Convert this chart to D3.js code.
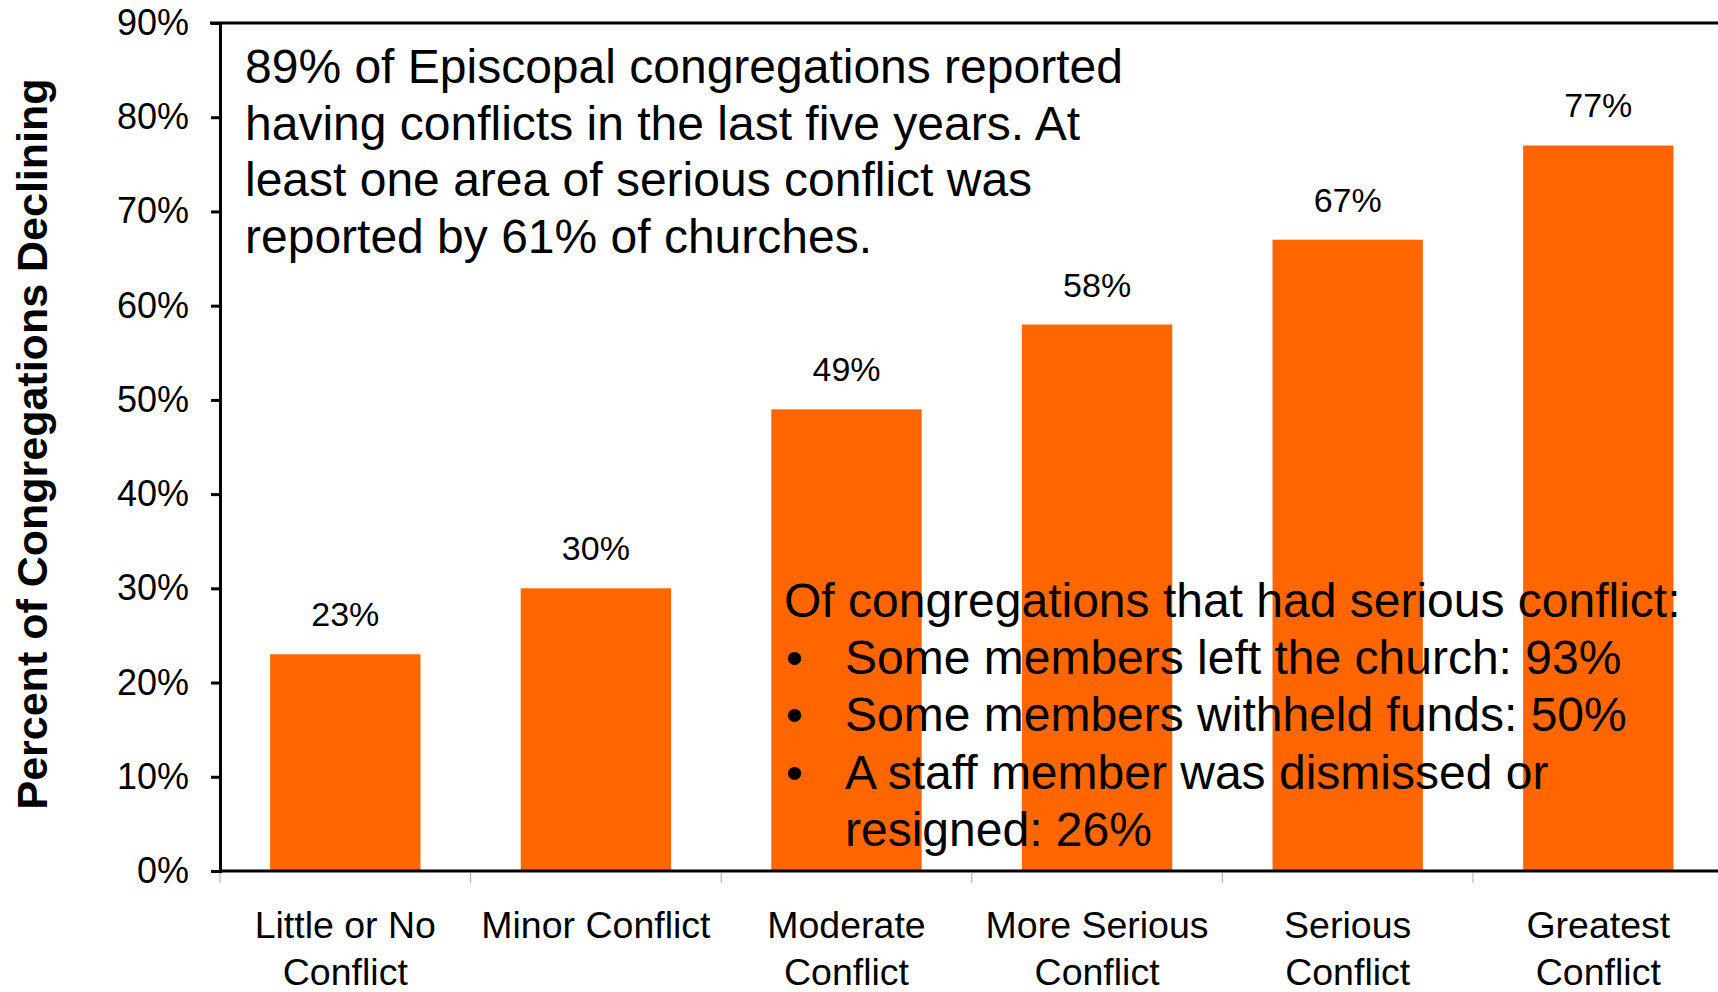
<!DOCTYPE html>
<html>
<head>
<meta charset="utf-8">
<script src="https://cdn.jsdelivr.net/npm/d3@7"></script>
<style>
  html, body { margin: 0; padding: 0; background: #fff; overflow: hidden; }
  svg { display: block; font-family: "Liberation Sans", Arial, sans-serif; }
</style>
</head>
<body>
<svg id="chart" width="1718" height="992"></svg>
<script>
const categories = ["Little or No Conflict", "Minor Conflict", "Moderate Conflict", "More Serious Conflict", "Serious Conflict", "Greatest Conflict"];
const categoryLines = [["Little or No", "Conflict"], ["Minor Conflict"], ["Moderate", "Conflict"], ["More Serious", "Conflict"], ["Serious", "Conflict"], ["Greatest", "Conflict"]];
const values = [0.23, 0.30, 0.49, 0.58, 0.67, 0.77];
const yTicks = [0, 0.1, 0.2, 0.3, 0.4, 0.5, 0.6, 0.7, 0.8, 0.9];
const yTitle = "Percent of Congregations Declining";
const note1 = ["89% of Episcopal congregations reported", "having conflicts in the last five years. At", "least one area of serious conflict was", "reported by 61% of churches."];
const note2Head = "Of congregations that had serious conflict:";
const note2Bullets = [["Some members left the church: 93%"], ["Some members withheld funds: 50%"], ["A staff member was dismissed or", "resigned: 26%"]];

(function () {
const W = 1718, H = 992;
const mLeft = 220, mTop = 23, mBottom = 871, mRight = 1723.6;
const svg = d3.select("#chart");

const x = d3.scaleBand().domain(categories).range([mLeft, mRight]).paddingInner(0.4).paddingOuter(0.2);
const y = d3.scaleLinear().domain([0, 0.9]).range([mBottom, mTop]);

// Bars
svg.append("g").selectAll("rect").data(values).join("rect")
  .attr("x", (d, i) => x(categories[i]))
  .attr("y", d => y(d))
  .attr("width", x.bandwidth())
  .attr("height", d => y(0) - y(d))
  .attr("fill", "#FF6600");

// Bar value labels
svg.append("g").selectAll("text").data(values).join("text")
  .attr("x", (d, i) => x(categories[i]) + x.bandwidth() / 2)
  .attr("y", d => y(d) - 28)
  .attr("text-anchor", "middle")
  .attr("font-size", 34)
  .attr("fill", "#000")
  .text(d => d3.format(".0%")(d));

// Y axis
const yAxis = d3.axisLeft(y).tickValues(yTicks).tickFormat(d3.format(".0%")).tickSize(9).tickPadding(22);
const gy = svg.append("g").attr("transform", `translate(${mLeft},0)`).call(yAxis);
gy.select(".domain").attr("stroke", "#000").attr("stroke-width", 3);
gy.selectAll(".tick line").attr("stroke", "#000").attr("stroke-width", 3);
gy.selectAll(".tick text").attr("font-size", 36).attr("fill", "#000")
  .attr("font-family", "Liberation Sans, Arial, sans-serif");

// Top border line
svg.append("line").attr("x1", mLeft - 10).attr("x2", W).attr("y1", y(0.9)).attr("y2", y(0.9))
  .attr("stroke", "#000").attr("stroke-width", 3);

// Bottom axis: gray ticks at band boundaries
const bounds = categories.map(c => x(c) - x.step() * x.paddingInner() / 2);
svg.append("g").selectAll("line").data(bounds).join("line")
  .attr("x1", d => d).attr("x2", d => d)
  .attr("y1", y(0) + 2).attr("y2", y(0) + 12)
  .attr("stroke", "#aaa").attr("stroke-width", 1);
svg.append("line").attr("x1", mLeft).attr("x2", W).attr("y1", y(0)).attr("y2", y(0))
  .attr("stroke", "#000").attr("stroke-width", 3);

// Category labels
const cat = svg.append("g").selectAll("text").data(categories).join("text")
  .attr("text-anchor", "middle")
  .attr("font-size", 37.5)
  .attr("fill", "#000");
cat.each(function(c, i) {
  const t = d3.select(this);
  categoryLines[i].forEach((ln, j) => {
    t.append("tspan").attr("x", x(c) + x.bandwidth() / 2).attr("y", 938 + j * 47).text(ln);
  });
});

// Y title
svg.append("text")
  .attr("transform", `translate(47,444) rotate(-90)`)
  .attr("text-anchor", "middle")
  .attr("font-size", 43)
  .attr("font-weight", "bold")
  .attr("fill", "#000")
  .text(yTitle);

// Annotation 1
const n1 = svg.append("text").attr("font-size", 48).attr("fill", "#000");
note1.forEach((ln, j) => n1.append("tspan").attr("x", 245).attr("y", 83 + j * 56.7).text(ln));

// Annotation 2
const n2 = svg.append("g").attr("font-size", 48).attr("fill", "#000");
n2.append("text").attr("x", 784).attr("y", 617).text(note2Head);
let row = 1;
note2Bullets.forEach(b => {
  n2.append("text").attr("x", 786).attr("y", 617 + row * 57.2).text("•");
  b.forEach(ln => {
    n2.append("text").attr("x", 845).attr("y", 617 + row * 57.2).text(ln);
    row++;
  });
});
})();
</script>
</body>
</html>
